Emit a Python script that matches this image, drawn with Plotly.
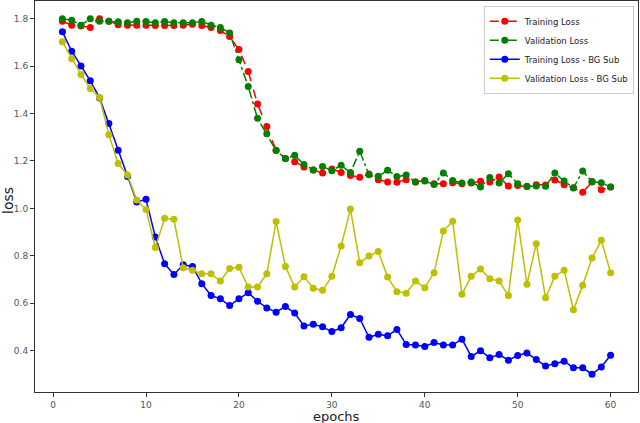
import plotly.graph_objects as go

epochs = list(range(1, 61))

train_loss = [1.790, 1.773, 1.770, 1.763, 1.800, 1.790, 1.775, 1.773, 1.773, 1.773,
              1.772, 1.772, 1.772, 1.773, 1.777, 1.772, 1.763, 1.750, 1.725, 1.670,
              1.578, 1.440, 1.345, 1.245, 1.210, 1.197, 1.175, 1.162, 1.149, 1.166,
              1.151, 1.139, 1.131, 1.145, 1.121, 1.111, 1.110, 1.121, 1.111, 1.118,
              1.104, 1.104, 1.108, 1.104, 1.107, 1.114, 1.111, 1.132, 1.094, 1.096,
              1.092, 1.100, 1.099, 1.120, 1.100, 1.087, 1.068, 1.111, 1.079, 1.090]

val_loss = [1.800, 1.794, 1.773, 1.800, 1.790, 1.790, 1.787, 1.783, 1.790, 1.788,
            1.783, 1.789, 1.783, 1.783, 1.783, 1.789, 1.773, 1.763, 1.740, 1.627,
            1.514, 1.380, 1.315, 1.244, 1.210, 1.224, 1.185, 1.162, 1.177, 1.159,
            1.182, 1.151, 1.241, 1.142, 1.135, 1.161, 1.134, 1.141, 1.111, 1.115,
            1.101, 1.149, 1.118, 1.107, 1.111, 1.090, 1.130, 1.107, 1.146, 1.104,
            1.093, 1.094, 1.093, 1.149, 1.115, 1.086, 1.158, 1.113, 1.108, 1.090]

train_bg = [1.745, 1.663, 1.601, 1.538, 1.466, 1.358, 1.245, 1.134, 1.027, 1.038,
            0.879, 0.766, 0.721, 0.762, 0.755, 0.682, 0.632, 0.618, 0.590, 0.618,
            0.644, 0.608, 0.580, 0.562, 0.586, 0.558, 0.504, 0.511, 0.500, 0.480,
            0.496, 0.552, 0.535, 0.456, 0.469, 0.462, 0.489, 0.425, 0.423, 0.417,
            0.434, 0.423, 0.423, 0.448, 0.375, 0.399, 0.370, 0.383, 0.359, 0.379,
            0.390, 0.362, 0.335, 0.344, 0.355, 0.327, 0.327, 0.300, 0.331, 0.380]

val_bg = [1.703, 1.631, 1.565, 1.506, 1.468, 1.311, 1.189, 1.141, 1.035, 0.995,
          0.835, 0.958, 0.954, 0.749, 0.739, 0.724, 0.724, 0.693, 0.746, 0.751,
          0.668, 0.668, 0.724, 0.944, 0.755, 0.668, 0.711, 0.663, 0.654, 0.713,
          0.841, 0.997, 0.770, 0.799, 0.818, 0.710, 0.648, 0.642, 0.693, 0.665,
          0.728, 0.904, 0.946, 0.637, 0.713, 0.744, 0.703, 0.693, 0.632, 0.951,
          0.680, 0.851, 0.623, 0.713, 0.739, 0.572, 0.676, 0.790, 0.865, 0.728]

series = [
    ('Training Loss', train_loss, '#ff0000', 'dash'),
    ('Validation Loss', val_loss, '#008000', 'dashdot'),
    ('Training Loss - BG Sub', train_bg, '#0000ff', 'solid'),
    ('Validation Loss - BG Sub', val_bg, '#bfbf00', 'solid'),
]

fig = go.Figure()
for name, vals, color, dash in series:
    fig.add_trace(go.Scatter(
        x=epochs, y=vals, name=name, mode='lines+markers',
        line=dict(color=color, width=1.5, dash=dash),
        marker=dict(color=color, size=7),
    ))

axis_style = dict(
    showline=True, mirror=True, linecolor='#333333', linewidth=1,
    showgrid=False, zeroline=False, ticks='outside', ticklen=4,
    tickcolor='#333333', tickfont=dict(size=9, color='#555555'),
)

fig.update_layout(
    width=640, height=423,
    margin=dict(l=35, r=2, t=1, b=31),
    paper_bgcolor='white', plot_bgcolor='white',
    font=dict(family='DejaVu Sans', color='#222222'),
    xaxis=dict(range=[-1.95, 62.95], tickvals=[0, 10, 20, 30, 40, 50, 60], **axis_style),
    yaxis=dict(range=[0.225, 1.875], tickvals=[0.4, 0.6, 0.8, 1.0, 1.2, 1.4, 1.6, 1.8],
               tickformat='.1f', **axis_style),
    legend=dict(x=0.993, y=0.988, xanchor='right', yanchor='top',
                bgcolor='white', bordercolor='#cccccc', borderwidth=1,
                font=dict(size=8.5), tracegroupgap=0, itemwidth=30),
    showlegend=True,
    annotations=[
        dict(text='epochs', xref='paper', yref='paper', x=0.5, y=-0.0625,
             xanchor='center', yanchor='middle', showarrow=False, font=dict(size=13)),
        dict(text='loss', xref='paper', yref='paper', x=-0.044, y=0.49,
             xanchor='center', yanchor='middle', textangle=-90, showarrow=False,
             font=dict(size=14)),
    ],
)

# drop the default body margin so the figure sits at the window's corner
fig.write_html("out.html", config={'displayModeBar': False},
               post_script="document.body.style.margin='0';")
